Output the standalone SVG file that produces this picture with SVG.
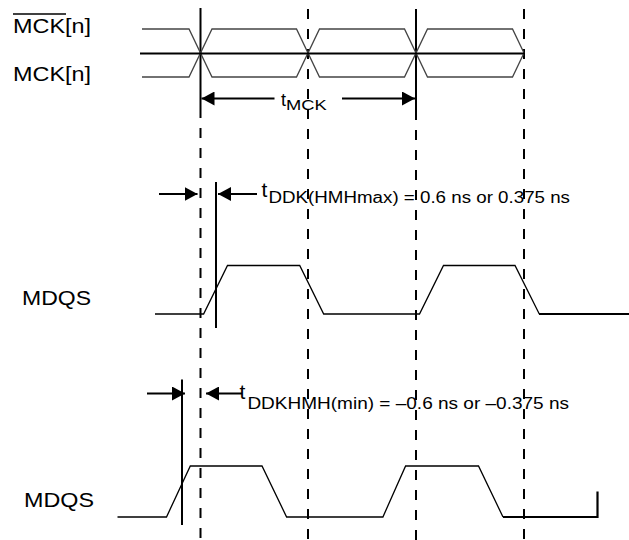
<svg xmlns="http://www.w3.org/2000/svg" width="629" height="540" viewBox="0 0 629 540">
<style>
.lbl{font-family:"Liberation Sans",Arial,sans-serif;fill:#000}
.wave{fill:none;stroke:#000;stroke-width:1.3}
.clk{fill:none;stroke:#444;stroke-width:1.3}
.solid{stroke:#000;stroke-width:2}
.dash{stroke:#000;stroke-width:2;stroke-dasharray:10 10}
.arr{stroke:#000;stroke-width:2}
</style>
<defs>
<marker id="ah" viewBox="0 0 13 14" refX="13" refY="7" markerWidth="13" markerHeight="14" markerUnits="userSpaceOnUse" orient="auto">
<path d="M0,0 L13,7 L0,14 Z" fill="#000"/>
</marker>
</defs>
<rect width="629" height="540" fill="#fff"/>

<g id="guides">
<line class="solid" x1="200.5" y1="8" x2="200.5" y2="118"/>
<line class="solid" x1="416" y1="9" x2="416" y2="120"/>
<line class="dash" x1="200.5" y1="128" x2="200.5" y2="540"/>
<line class="dash" x1="308" y1="9" x2="308" y2="540"/>
<line class="dash" x1="416" y1="130" x2="416" y2="540"/>
<line class="dash" x1="524" y1="9" x2="524" y2="540"/>
</g>

<g id="mck">
<text class="lbl" x="13" y="33" font-size="19.5" textLength="78" lengthAdjust="spacingAndGlyphs">MCK[n]</text>
<line x1="13" y1="14" x2="66" y2="14" stroke="#000" stroke-width="1.5"/>
<text class="lbl" x="13" y="81" font-size="19.5" textLength="78" lengthAdjust="spacingAndGlyphs">MCK[n]</text>
<path class="clk" d="M142,29 H189 L212,77 H296.5 L319.5,29 H404.5 L427.5,77 H512.5 L524,53"/>
<path class="clk" d="M142,77 H189 L212,29 H296.5 L319.5,77 H404.5 L427.5,29 H512.5 L524,53"/>
<line x1="140" y1="53.5" x2="525" y2="53.5" stroke="#000" stroke-width="2"/>
</g>

<g id="mdqs1">
<text class="lbl" x="22" y="305" font-size="19.5" textLength="69" lengthAdjust="spacingAndGlyphs">MDQS</text>
<path class="wave" d="M155,314 H203.6 L227.5,265.5 H299.7 L323.7,314 H419.5 L443.5,265.5 H515 L539.3,314"/>
<line x1="539" y1="314" x2="629" y2="314" stroke="#000" stroke-width="2.2"/>
<line class="solid" x1="216" y1="182" x2="216" y2="328"/>
</g>

<g id="mdqs2">
<text class="lbl" x="24" y="507" font-size="19.5" textLength="70" lengthAdjust="spacingAndGlyphs">MDQS</text>
<path class="wave" d="M117.5,517 H166.5 L190.3,466 H262 L286.6,517 H382.9 L405.6,466 H478.5 L503,517"/>
<path d="M503,517 H597.5 V491.5" fill="none" stroke="#000" stroke-width="2.2"/>
<line class="solid" x1="182" y1="379.5" x2="182" y2="525"/>
</g>

<g id="labels">
<text class="lbl" x="281" y="105.5" font-size="18">t</text>
<text class="lbl" x="286" y="110" font-size="15.5" textLength="40.7" lengthAdjust="spacingAndGlyphs">MCK</text>
<text class="lbl" x="261.5" y="196.5" font-size="21">t</text>
<text class="lbl" x="268.5" y="203" font-size="15.6" textLength="301.5" lengthAdjust="spacingAndGlyphs">DDK(HMHmax) = 0.6 ns or 0.375 ns</text>
<text class="lbl" x="239.5" y="399" font-size="21">t</text>
<text class="lbl" x="247.4" y="409" font-size="15.8" textLength="321.6" lengthAdjust="spacingAndGlyphs">DDKHMH(min) = –0.6 ns or –0.375 ns</text>
</g>

<g id="connectors">
<line class="arr" x1="274.5" y1="98.5" x2="201.5" y2="98.5" marker-end="url(#ah)"/>
<line class="arr" x1="342" y1="98.5" x2="415" y2="98.5" marker-end="url(#ah)"/>
<line class="arr" x1="159" y1="194" x2="197.5" y2="194" marker-end="url(#ah)"/>
<line class="arr" x1="257" y1="194" x2="218" y2="194" marker-end="url(#ah)"/>
<line class="arr" x1="147" y1="393.5" x2="185" y2="393.5" marker-end="url(#ah)"/>
<line class="arr" x1="242" y1="393.5" x2="206" y2="393.5" marker-end="url(#ah)"/>
</g>
</svg>
